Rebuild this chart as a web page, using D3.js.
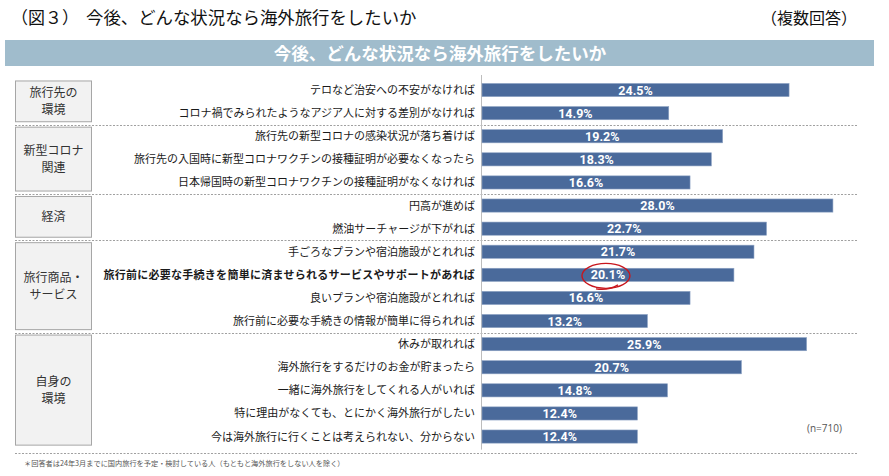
<!DOCTYPE html>
<html><head><meta charset="utf-8">
<script src="https://cdn.jsdelivr.net/npm/d3@7"></script>
<style>
html,body{margin:0;padding:0;background:#fff;}
svg{display:block;font-family:"Noto Sans CJK JP","Noto Sans",sans-serif;}
</style></head>
<body>
<svg id="c" width="889" height="476"></svg>
<script>
const categories = [
  "テロなど治安への不安がなければ",
  "コロナ禍でみられたようなアジア人に対する差別がなければ",
  "旅行先の新型コロナの感染状況が落ち着けば",
  "旅行先の入国時に新型コロナワクチンの接種証明が必要なくなったら",
  "日本帰国時の新型コロナワクチンの接種証明がなくなければ",
  "円高が進めば",
  "燃油サーチャージが下がれば",
  "手ごろなプランや宿泊施設がとれれば",
  "旅行前に必要な手続きを簡単に済ませられるサービスやサポートがあれば",
  "良いプランや宿泊施設がとれれば",
  "旅行前に必要な手続きの情報が簡単に得られれば",
  "休みが取れれば",
  "海外旅行をするだけのお金が貯まったら",
  "一緒に海外旅行をしてくれる人がいれば",
  "特に理由がなくても、とにかく海外旅行がしたい",
  "今は海外旅行に行くことは考えられない、分からない"
];
const values = [24.5, 14.9, 19.2, 18.3, 16.6, 28.0, 22.7, 21.7, 20.1, 16.6, 13.2, 25.9, 20.7, 14.8, 12.4, 12.4];
const groupNames = [["旅行先の","環境"],["新型コロナ","関連"],["経済"],["旅行商品・","サービス"],["自身の","環境"]];
const groupSizes = [2, 3, 2, 4, 5];
const highlighted = "旅行前に必要な手続きを簡単に済ませられるサービスやサポートがあれば";
const chartTitle = "今後、どんな状況なら海外旅行をしたいか";
const figLabel = "（図３）";
const noteRight = "（複数回答）";
const sampleNote = "(n=710)";
const footnote = "＊回答者は24年3月までに国内旅行を予定・検討している人（もともと海外旅行をしない人を除く）";

const svg = d3.select("#c");
const x = d3.scaleLinear().domain([0, 30]).range([482, 858]);
const y = d3.scaleBand().domain(categories).range([78.5, 448.1]).paddingInner(0.43).paddingOuter(0.215);
const bw = y.bandwidth(), step = y.step();

// top titles
svg.append("text").attr("x", 11).attr("y", 24).attr("font-size", 17).attr("fill", "#111").text(figLabel);
svg.append("text").attr("x", 86).attr("y", 24).attr("font-size", 17.4).attr("fill", "#111").text(chartTitle);
svg.append("text").attr("x", 857).attr("y", 24).attr("font-size", 16).attr("text-anchor", "end").attr("fill", "#111").text(noteRight);

// header bar
svg.append("rect").attr("x", 5).attr("y", 40).attr("width", 869).attr("height", 26).attr("fill", "#a0bccc");
svg.append("text").attr("x", 440).attr("y", 60).attr("font-size", 17.5).attr("font-weight", "bold")
  .attr("text-anchor", "middle").attr("fill", "#fff").text(chartTitle);

// groups
let idx = 0;
const groups = groupSizes.map((n, g) => {
  const first = categories[idx], last = categories[idx + n - 1];
  idx += n;
  return {name: groupNames[g], first, last};
});

// separators
const sepYs = groups.map(gr => y(gr.last) + bw + (step - bw) / 2);
sepYs[sepYs.length - 1] = y(groups[groups.length - 1].last) + bw + 9.5;
svg.selectAll("line.sep").data(sepYs).join("line").attr("class", "sep")
  .attr("x1", 15).attr("x2", x(30)).attr("y1", d => Math.round(d) + 0.5).attr("y2", d => Math.round(d) + 0.5)
  .attr("stroke", "#a0a0a0").attr("stroke-width", 1).attr("stroke-dasharray", "2,1.5");

// group boxes
const gBox = svg.selectAll("g.grp").data(groups).join("g").attr("class", "grp");
gBox.append("rect")
  .attr("x", 15.5).attr("width", 76)
  .attr("y", d => y(d.first) - 2.5)
  .attr("height", d => y(d.last) + bw + 2 - (y(d.first) - 2.5))
  .attr("fill", "#f2f2f2").attr("stroke", "#a6a6a6");
gBox.each(function(d) {
  const cy = (y(d.first) - 2.5 + y(d.last) + bw + 2) / 2;
  const lh = 17;
  const n = d.name.length;
  d3.select(this).selectAll("text").data(d.name).join("text")
    .attr("x", 53.5).attr("y", (t, i) => cy + (i - (n - 1) / 2) * lh + 4.5)
    .attr("text-anchor", "middle").attr("font-size", 12).attr("fill", "#333").text(t => t);
});

// axis line
svg.append("line").attr("x1", x(0) - 0.5).attr("x2", x(0) - 0.5).attr("y1", 75).attr("y2", sepYs[sepYs.length - 1] - 3)
  .attr("stroke", "#bdbdbd");

// category labels
svg.selectAll("text.cat").data(categories).join("text").attr("class", "cat")
  .attr("x", x(0) - 7).attr("y", d => y(d) + bw / 2 + 4)
  .attr("text-anchor", "end").attr("font-size", 11).attr("fill", "#1a1a1a")
  .attr("letter-spacing", d => d === highlighted ? 0.27 : 0)
  .attr("font-weight", d => d === highlighted ? "bold" : "normal").text(d => d);

// bars
svg.selectAll("rect.bar").data(values).join("rect").attr("class", "bar")
  .attr("x", x(0)).attr("y", (d, i) => y(categories[i]))
  .attr("width", d => x(d) - x(0)).attr("height", bw)
  .attr("fill", "#4a6a9b").attr("stroke", "#8ea3c4").attr("stroke-width", 0.6);

// value labels
svg.selectAll("text.val").data(values).join("text").attr("class", "val")
  .attr("x", d => (x(0) + x(d)) / 2).attr("y", (d, i) => y(categories[i]) + bw / 2 + 4.5)
  .attr("text-anchor", "middle").attr("font-family", "Roboto, 'Open Sans', sans-serif")
  .attr("font-weight", "bold").attr("font-size", 12.5).attr("fill", "#fff")
  .text(d => d.toFixed(1) + "%");

// highlight ellipse
const hi = categories.indexOf(highlighted);
const hx = (x(0) + x(values[hi])) / 2 - 2, hy = y(highlighted) + bw / 2 + 1;
svg.append("ellipse").attr("cx", hx).attr("cy", hy).attr("rx", 24).attr("ry", 12.5)
  .attr("fill", "none").attr("stroke", "#c8161d").attr("stroke-width", 1.4);
svg.append("path")
  .attr("d", `M${hx + 12},${hy + 9} Q${hx + 2},${hy + 15} ${hx - 10},${hy + 13}`)
  .attr("fill", "none").attr("stroke", "#c8161d").attr("stroke-width", 1.4);

// n note
svg.append("text").attr("x", 807).attr("y", 432).attr("font-size", 10).attr("fill", "#555")
  .attr("font-family", "'Open Sans', sans-serif").text(sampleNote);

// footnote
svg.append("text").attr("x", 24).attr("y", 466).attr("font-size", 7.2).attr("fill", "#555").text(footnote);
</script>
</body></html>
